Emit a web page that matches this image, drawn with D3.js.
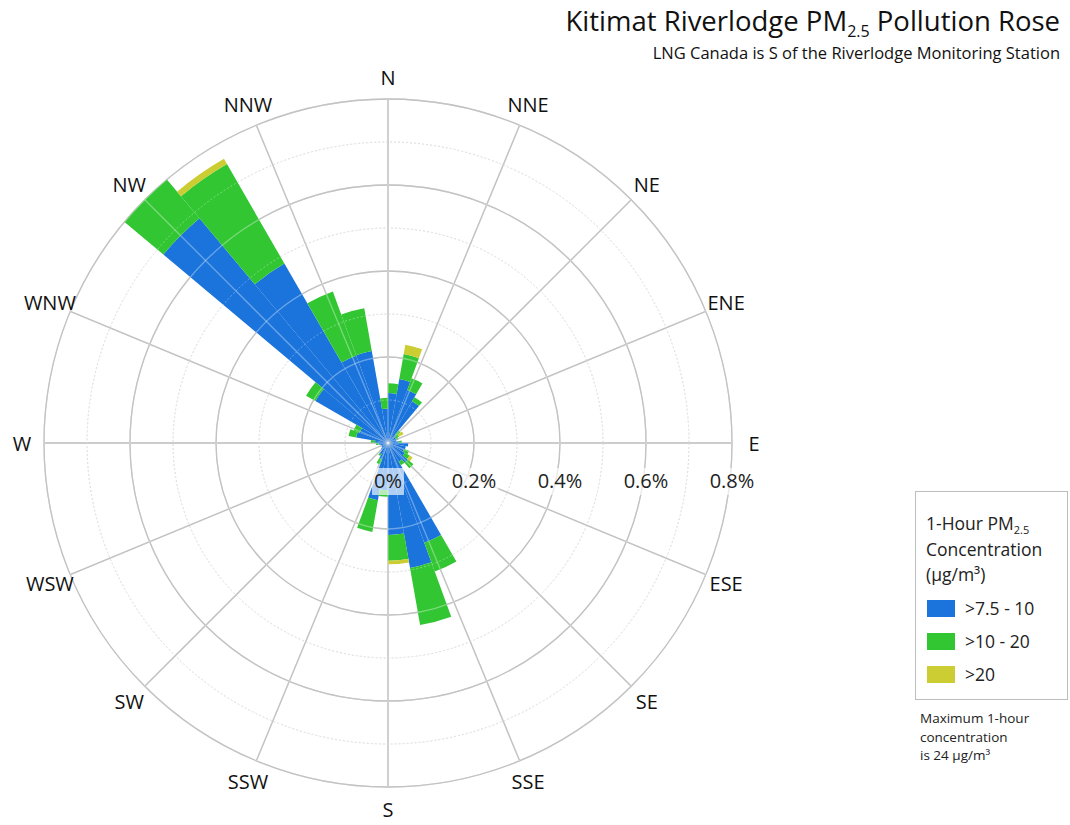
<!DOCTYPE html>
<html>
<head>
<meta charset="utf-8">
<script src="https://cdn.jsdelivr.net/npm/d3@7"></script>
<style>
  body { margin: 0; background: #fff; }
  svg { display: block; font-family: "Open Sans", "Noto Sans", sans-serif; }
</style>
</head>
<body>
<div id="chart"></div>
<script>
// Direction bins, 10 degrees wide (start angle of each bin)
const binStart = [0, 10, 20, 30, 40, 50, 60, 70, 80, 90, 100, 110,
    120, 130, 140, 150, 160, 170, 180, 190, 200, 210, 220, 230,
    240, 250, 260, 270, 280, 290, 300, 310, 320, 330, 340, 350];

// frequency (%) of hours in each concentration band, per bin
const band1 = [0.116, 0.151, 0.131, 0.112, 0.025, 0.020, 0.022, 0.020, 0.025, 0.047, 0.042, 0.040,
    0.045, 0.060, 0.050, 0.247, 0.295, 0.214, 0.110, 0.135, 0.040, 0.030, 0.022, 0.018,
    0.015, 0.018, 0.022, 0.030, 0.075, 0.070, 0.195, 0.682, 0.482, 0.216, 0.217, 0.080];
const band2 = [0.023, 0.059, 0.029, 0.011, 0.013, 0.010, 0.004, 0.000, 0.007, 0.000, 0.000, 0.012,
    0.013, 0.017, 0.010, 0.071, 0.135, 0.060, 0.015, 0.075, 0.013, 0.005, 0.000, 0.000,
    0.000, 0.000, 0.006, 0.010, 0.018, 0.015, 0.025, 0.118, 0.267, 0.159, 0.101, 0.025];
const band3 = [0.000, 0.022, 0.000, 0.000, 0.000, 0.012, 0.000, 0.000, 0.000, 0.000, 0.000, 0.000,
    0.008, 0.000, 0.000, 0.000, 0.000, 0.008, 0.000, 0.000, 0.000, 0.000, 0.000, 0.000,
    0.000, 0.000, 0.000, 0.000, 0.000, 0.000, 0.000, 0.000, 0.014, 0.000, 0.000, 0.000];

const bandNames = [">7.5 - 10", ">10 - 20", ">20"];
const bandColors = ["#1a74dc", "#33c633", "#cccc33"];

const dirLabels = ["N", "NNE", "NE", "ENE", "E", "ESE", "SE", "SSE",
    "S", "SSW", "SW", "WSW", "W", "WNW", "NW", "NNW"];
const ringValues = [0.1, 0.2, 0.3, 0.4, 0.5, 0.6, 0.7, 0.8];
const tickValues = [0, 0.2, 0.4, 0.6, 0.8];

const width = 1070, height = 825;
const cx = 388, cy = 443;
const rMax = 344;

const svg = d3.select("#chart").append("svg")
    .attr("width", width)
    .attr("height", height);

const r = d3.scaleLinear().domain([0, 0.8]).range([0, rMax]);
const toRad = d => d * Math.PI / 180;

const g = svg.append("g").attr("transform", `translate(${cx},${cy})`);

// grid (drawn once under the bars, once faintly on top)
function drawGrid(layer, solidColor, dotColor, alpha) {
    layer.selectAll("circle")
        .data(ringValues)
        .enter().append("circle")
        .attr("r", d => r(d))
        .attr("fill", "none")
        .attr("stroke", (d, i) => i % 2 ? solidColor : dotColor)
        .attr("stroke-width", (d, i) => i % 2 ? 1.3 : 1)
        .attr("stroke-dasharray", (d, i) => i % 2 ? null : "2,2")
        .attr("stroke-opacity", alpha);

    layer.selectAll("line")
        .data(dirLabels)
        .enter().append("line")
        .attr("x1", 0).attr("y1", 0)
        .attr("x2", (d, i) => rMax * Math.sin(toRad(i * 22.5)))
        .attr("y2", (d, i) => -rMax * Math.cos(toRad(i * 22.5)))
        .attr("stroke", solidColor)
        .attr("stroke-width", 1.3)
        .attr("stroke-opacity", alpha);
}

drawGrid(g.append("g"), "#a3a3a3", "#cfcfcf", 1);

// stacked bars
const rows = binStart.map((a, i) => ({ angle: a, b1: band1[i], b2: band2[i], b3: band3[i] }));
const stack = d3.stack().keys(["b1", "b2", "b3"]);
const layers = stack(rows);

const arc = d3.arc()
    .innerRadius(d => r(d[0]))
    .outerRadius(d => r(d[1]))
    .startAngle(d => toRad(d.data.angle))
    .endAngle(d => toRad(d.data.angle + 10));

g.append("g").selectAll("g")
    .data(layers)
    .enter().append("g")
    .attr("fill", (d, i) => bandColors[i])
    .selectAll("path")
    .data(d => d.filter(v => v[1] - v[0] > 0))
    .enter().append("path")
    .attr("d", arc);

drawGrid(g.append("g"), "#ffffff", "#ffffff", 0.35);

// direction labels
g.append("g").selectAll("text")
    .data(dirLabels)
    .enter().append("text")
    .attr("x", (d, i) => 366 * Math.sin(toRad(i * 22.5)))
    .attr("y", (d, i) => -366 * Math.cos(toRad(i * 22.5)))
    .attr("text-anchor", "middle")
    .attr("dominant-baseline", "central")
    .attr("font-size", "20px")
    .attr("fill", "#111")
    .text(d => d);

// radial tick labels along the E axis
const ticks = g.append("g").selectAll("g")
    .data(tickValues)
    .enter().append("g")
    .attr("transform", d => `translate(${r(d)},45)`);

ticks.append("text")
    .attr("text-anchor", "middle")
    .attr("font-size", "20px")
    .attr("fill", "#222")
    .text(d => d + "%")
    .each(function() {
        const bb = this.getBBox();
        d3.select(this.parentNode).insert("rect", "text")
            .attr("x", bb.x - 2).attr("y", bb.y + 1)
            .attr("width", bb.width + 4).attr("height", bb.height)
            .attr("fill", "#fff")
            .attr("fill-opacity", 0.65);
    });

// title
const title = svg.append("text")
    .attr("x", 1060).attr("y", 31)
    .attr("text-anchor", "end")
    .attr("font-size", "27.5px")
    .attr("fill", "#111");
title.append("tspan").text("Kitimat Riverlodge PM");
title.append("tspan").attr("font-size", "16px").attr("dy", 6).text("2.5");
title.append("tspan").attr("dy", -6).text(" Pollution Rose");

svg.append("text")
    .attr("x", 1060).attr("y", 59)
    .attr("text-anchor", "end")
    .attr("font-size", "16.5px")
    .attr("fill", "#111")
    .text("LNG Canada is S of the Riverlodge Monitoring Station");

// legend
const legend = svg.append("g");
legend.append("rect")
    .attr("x", 915.5).attr("y", 491.5)
    .attr("width", 152).attr("height", 208)
    .attr("fill", "#fff")
    .attr("stroke", "#bdbdbd");

const lt = legend.append("text")
    .attr("x", 926).attr("y", 530)
    .attr("font-size", "17.5px")
    .attr("fill", "#222");
lt.append("tspan").text("1-Hour PM");
lt.append("tspan").attr("font-size", "11px").attr("dy", 4).text("2.5");
legend.append("text").attr("x", 926).attr("y", 556)
    .attr("font-size", "17.5px").attr("fill", "#222").text("Concentration");
legend.append("text").attr("x", 926).attr("y", 581)
    .attr("font-size", "17.5px").attr("fill", "#222").text("(µg/m³)");

const items = legend.selectAll(".item")
    .data(bandNames)
    .enter().append("g")
    .attr("class", "item")
    .attr("transform", (d, i) => `translate(927,${600 + i * 33})`);

items.append("rect")
    .attr("width", 28).attr("height", 17)
    .attr("fill", (d, i) => bandColors[i]);

items.append("text")
    .attr("x", 38).attr("y", 15)
    .attr("font-size", "17.5px")
    .attr("fill", "#222")
    .text(d => d);

// note under the legend
const note = ["Maximum 1-hour", "concentration", "is 24 µg/m³"];
svg.append("g").selectAll("text")
    .data(note)
    .enter().append("text")
    .attr("x", 920)
    .attr("y", (d, i) => 723 + i * 18.5)
    .attr("font-size", "13.5px")
    .attr("fill", "#222")
    .text(d => d);
</script>
</body>
</html>
